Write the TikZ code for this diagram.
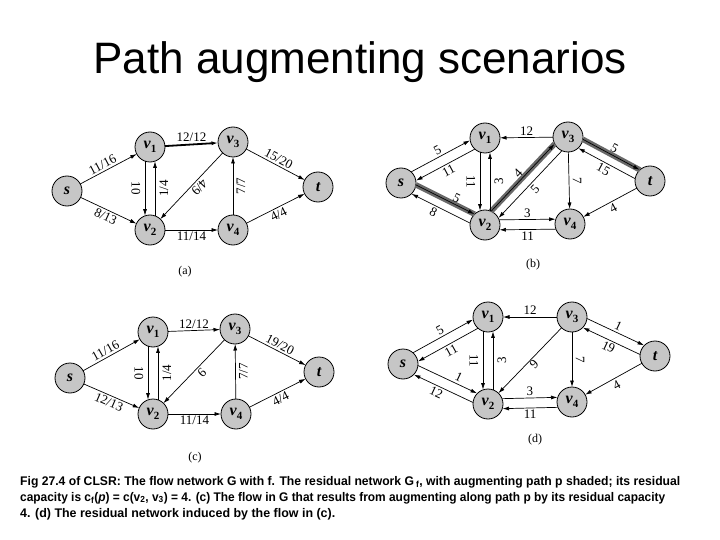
\documentclass[tikz,border=0pt]{standalone}
\usepackage{fontspec}
\usepackage{graphicx}
\setmainfont{Liberation Serif}
\newfontfamily\arialfont{Liberation Sans}
\usetikzlibrary{arrows.meta,calc}
\definecolor{nodegray}{RGB}{198,198,198}
\definecolor{bandgray}{RGB}{105,105,105}
\tikzset{
  vnode/.style={circle,draw,line width=0.8pt,fill=nodegray,minimum size=30pt,inner sep=0pt,outer sep=0pt,
    font=\fontsize{16}{16}\selectfont\bfseries\itshape},
  flowedge/.style={line width=0.7pt,-{Latex[length=6.5pt,width=4pt]}},
  lab/.style={font=\fontsize{13}{13}\selectfont,inner sep=2pt},
  pathband/.style={line width=5.5pt,draw=bandgray,line cap=butt},
  sublab/.style={font=\fontsize{12}{12}\selectfont},
  caplab/.style={font=\arialfont\bfseries\fontsize{12.5}{12.5}\selectfont,anchor=base west,inner sep=0pt},
}
\newcommand\vv[1]{v\raisebox{-3.5pt}{\fontsize{11}{11}\selectfont\upshape\bfseries #1}}
\newcommand\peL[5]{\draw[flowedge,shorten <=14.4pt,shorten >=14.4pt,#3] ($(#1)!5pt!90:(#2)$) -- node[lab,#4]{#5} ($(#2)!5pt!-90:(#1)$);}
\newcommand\peR[5]{\draw[flowedge,shorten <=14.4pt,shorten >=14.4pt,#3] ($(#1)!5pt!-90:(#2)$) -- node[lab,#4]{#5} ($(#2)!5pt!90:(#1)$);}
\newcommand\se[5]{\draw[flowedge,#3] (#1) -- node[lab,#4]{#5} (#2);}
\newcommand\bandL[2]{\draw[pathband,shorten <=14pt,shorten >=14pt] ($(#1)!5pt!90:(#2)$) -- ($(#2)!5pt!-90:(#1)$);}
\begin{document}
\begin{tikzpicture}[x=1pt,y=-1pt]
\useasboundingbox (0,0) rectangle (720,540);
\fill[white] (0,0) rectangle (720,540);
\node[font=\arialfont\fontsize{44}{44}\selectfont,anchor=base,inner sep=0pt] (title) at (360,74) {Path augmenting scenarios};

% ---------- (a)
\node[vnode] (as) at (67,191) {s};
\node[vnode] (av1) at (150,147) {\vv{1}};
\node[vnode] (av3) at (233,142) {\vv{3}};
\node[vnode] (at) at (318,187) {t};
\node[vnode] (av2) at (150,230) {\vv{2}};
\node[vnode] (av4) at (233,230) {\vv{4}};
\se{as}{av1}{}{sloped,above,pos=.45}{11/16}
\se{as}{av2}{}{sloped,below}{8/13}
\se{av1}{av3}{line width=1.8pt}{above}{12/12}
\peR{av1}{av2}{}{midway,xshift=-9pt,rotate=-90}{10}
\peR{av2}{av1}{}{midway,xshift=9pt,rotate=90}{1/4}
\se{av3}{av2}{allow upside down}{sloped,above,pos=.45}{4/9}
\se{av4}{av3}{}{midway,xshift=8pt,rotate=90}{7/7}
\se{av3}{at}{}{sloped,above}{15/20}
\se{av2}{av4}{}{below}{11/14}
\se{av4}{at}{}{sloped,below}{4/4}
\node[sublab] (la) at (185,272) {(a)};

% ---------- (b)
\node[vnode] (bs) at (401,183) {s};
\node[vnode] (bv1) at (485,138) {\vv{1}};
\node[vnode] (bv3) at (568,137) {\vv{3}};
\node[vnode] (bt) at (650,181) {t};
\node[vnode] (bv2) at (485,225) {\vv{2}};
\node[vnode] (bv4) at (570,224) {\vv{4}};
\bandL{bs}{bv2}
\bandL{bv2}{bv3}
\bandL{bv3}{bt}
\peL{bs}{bv1}{}{sloped,above}{5}
\peL{bv1}{bs}{}{sloped,below}{11}
\peR{bv1}{bv2}{}{midway,xshift=-9pt,rotate=-90}{11}
\peR{bv2}{bv1}{}{midway,xshift=9pt,rotate=90}{3}
\peL{bs}{bv2}{}{sloped,above,pos=.6}{5}
\peL{bv2}{bs}{}{sloped,below,pos=.55}{8}
\se{bv3}{bv1}{}{above}{12}
\peL{bv2}{bv3}{}{sloped,above}{4}
\peL{bv3}{bv2}{}{sloped,below}{5}
\se{bv3}{bv4}{}{midway,xshift=8pt,rotate=-90}{7}
\peL{bv3}{bt}{}{sloped,above}{5}
\peL{bt}{bv3}{}{sloped,below}{15}
\se{bt}{bv4}{}{sloped,below}{4}
\peL{bv2}{bv4}{}{above}{3}
\peL{bv4}{bv2}{}{below}{11}
\node[sublab] (lb) at (533,265) {(b)};

% ---------- (c)
\node[vnode] (cs) at (70,378) {s};
\node[vnode] (cv1) at (153,332) {\vv{1}};
\node[vnode] (cv3) at (235,329) {\vv{3}};
\node[vnode] (ct) at (319,372) {t};
\node[vnode] (cv2) at (153,414) {\vv{2}};
\node[vnode] (cv4) at (236,414) {\vv{4}};
\se{cs}{cv1}{}{sloped,above,pos=.45}{11/16}
\se{cs}{cv2}{}{sloped,below}{12/13}
\se{cv1}{cv3}{}{above}{12/12}
\peR{cv1}{cv2}{}{midway,xshift=-9pt,rotate=-90}{10}
\peR{cv2}{cv1}{}{midway,xshift=9pt,rotate=90}{1/4}
\se{cv3}{cv2}{allow upside down}{sloped,above,pos=.45}{9}
\se{cv4}{cv3}{}{midway,xshift=8pt,rotate=90}{7/7}
\se{cv3}{ct}{}{sloped,above}{19/20}
\se{cv2}{cv4}{}{below}{11/14}
\se{cv4}{ct}{}{sloped,below}{4/4}
\node[sublab] (lc) at (195,458) {(c)};

% ---------- (d)
\node[vnode] (ds) at (403,364) {s};
\node[vnode] (dv1) at (488,317) {\vv{1}};
\node[vnode] (dv3) at (572,317) {\vv{3}};
\node[vnode] (dt) at (655,356) {t};
\node[vnode] (dv2) at (488,404) {\vv{2}};
\node[vnode] (dv4) at (572,402) {\vv{4}};
\peL{ds}{dv1}{}{sloped,above}{5}
\peL{dv1}{ds}{}{sloped,below}{11}
\peR{dv1}{dv2}{}{midway,xshift=-9pt,rotate=-90}{11}
\peR{dv2}{dv1}{}{midway,xshift=9pt,rotate=90}{3}
\peL{ds}{dv2}{}{sloped,above,pos=.6}{1}
\peL{dv2}{ds}{}{sloped,below,pos=.55}{12}
\se{dv3}{dv1}{}{above}{12}
\se{dv3}{dv2}{}{sloped,below,inner sep=1pt}{9}
\se{dv3}{dv4}{}{midway,xshift=8pt,rotate=-90}{7}
\peL{dv3}{dt}{}{sloped,above}{1}
\peL{dt}{dv3}{}{sloped,below}{19}
\se{dt}{dv4}{}{sloped,below}{4}
\peL{dv2}{dv4}{}{above}{3}
\peL{dv4}{dv2}{}{below}{11}
\node[sublab] (ld) at (535,440) {(d)};

% ---------- caption
\node[caplab] (cap1) at (20,485) {\resizebox{660pt}{\height}{Fig 27.4 of CLSR: The flow network G with f. The residual network G\,\textsubscript{f}, with augmenting path p shaded; its residual}};
\node[caplab] (cap2) at (20,501) {\resizebox{645pt}{\height}{capacity is c\textsubscript{f}(\textit{p}) = c(v\textsubscript{2}, v\textsubscript{3}) = 4. (c) The flow in G that results from augmenting along path p by its residual capacity}};
\node[caplab] (cap3) at (20,517) {\resizebox{315pt}{\height}{4. (d) The residual network induced by the flow in (c).}};
\end{tikzpicture}
\end{document}
